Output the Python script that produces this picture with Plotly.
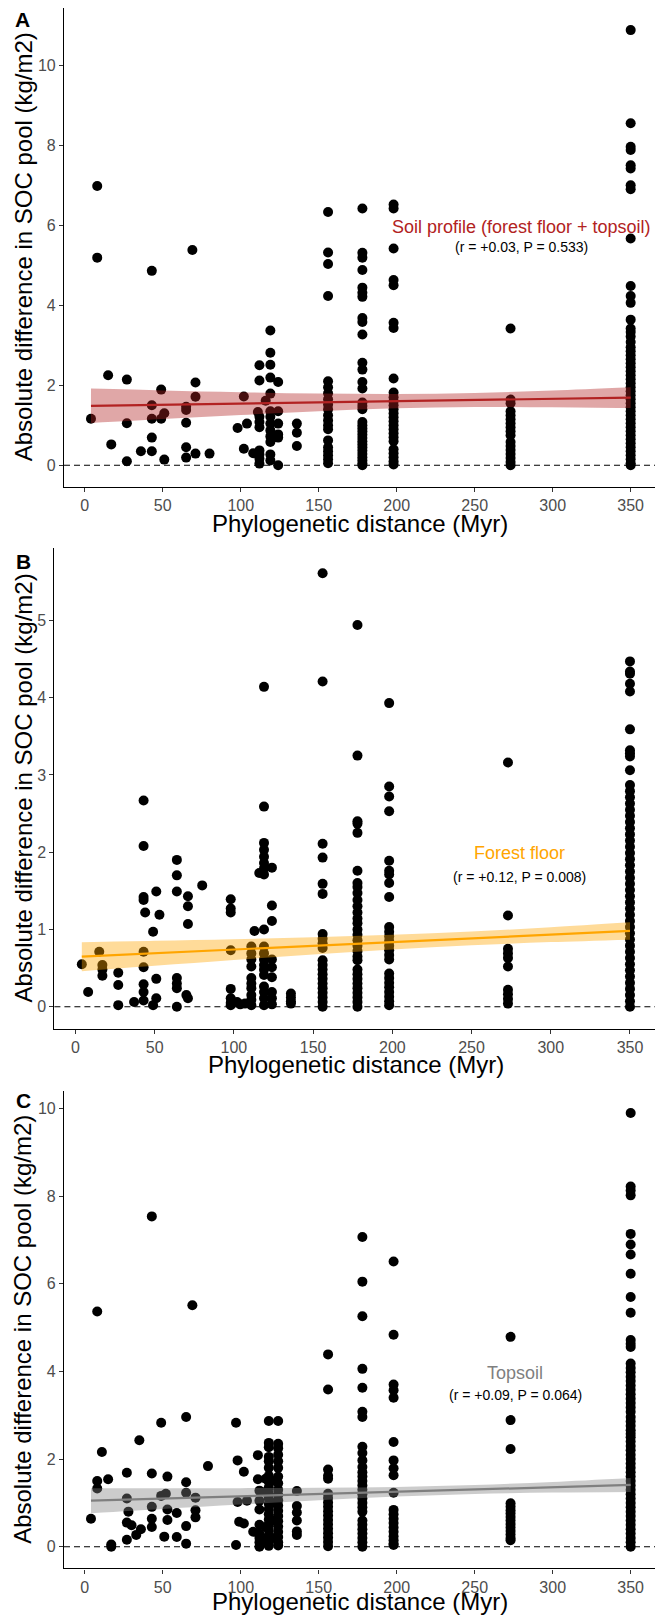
import plotly.graph_objects as go

W, H = 655, 1617
FONT = "Arial, Liberation Sans, sans-serif"

# ---------------- data ----------------
# Panel A: soil profile (forest floor + topsoil)
A_dist = [4, 8, 15, 17, 27, 36, 43, 49, 51, 65, 69, 71, 80, 98, 102, 104, 108, 111,
          112, 116, 119, 124, 136, 156, 178, 198, 273, 350]
A_vals = [
    [1.16], [6.98, 5.19], [2.25], [0.52], [2.14, 1.05, 0.10], [0.35],
    [4.86, 1.50, 1.16, 0.69, 0.35], [1.89, 1.16], [1.30, 0.14],
    [1.46, 1.38, 1.06, 0.45, 0.19], [5.38], [2.07, 1.71, 0.29], [0.29], [0.93],
    [1.72, 0.41], [1.04], [0.30], [1.33],
    [2.50, 2.12, 1.21, 1.08, 0.95, 0.37, 0.27, 0.16, 0.04], [1.61],
    [3.37, 2.81, 2.51, 2.19, 1.79, 1.35, 1.21, 1.04, 0.87, 0.72, 0.58, 0.27, 0.12],
    [2.08, 1.35, 1.04, 0.77, 0.69, 0.0], [1.04, 0.81, 0.48],
    [6.33, 5.32, 5.03, 4.23, 2.10, 1.95, 1.80, 1.65, 1.52, 1.40, 1.25, 1.12, 1.00,
     0.90, 0.62, 0.45, 0.35, 0.25, 0.15, 0.05],
    [6.42, 5.31, 5.19, 4.88, 4.44, 4.31, 4.21, 3.68, 3.58, 3.27, 2.56, 2.39, 2.08,
     1.92, 1.57, 1.48, 1.40, 1.08, 1.00, 0.92, 0.84, 0.76, 0.68, 0.60, 0.52, 0.44,
     0.36, 0.28, 0.20, 0.12, 0.04, 0.0],
    [6.52, 6.42, 5.42, 4.63, 4.50, 3.56, 3.43, 2.17, 1.82, 1.70, 1.60, 1.50, 1.40,
     1.30, 1.20, 1.10, 1.00, 0.90, 0.80, 0.70, 0.60, 0.40, 0.30, 0.20, 0.10, 0.02],
    [3.42, 1.64, 1.55, 1.35, 1.25, 1.15, 1.05, 0.95, 0.85, 0.75, 0.58, 0.48, 0.38,
     0.28, 0.18, 0.08, 0.0],
    [10.88, 8.55, 7.96, 7.88, 7.50, 7.42, 7.00, 6.90, 5.67, 4.48, 4.23, 4.06, 3.64,
     3.42, 3.33, 3.22, 3.08, 2.95, 2.85, 2.75, 2.65, 2.55, 2.45, 2.35, 2.25, 2.15,
     2.05, 1.95, 1.85, 1.75, 1.65, 1.55, 1.45, 1.35, 1.25, 1.15, 1.05, 0.95, 0.85,
     0.75, 0.65, 0.55, 0.45, 0.35, 0.25, 0.15, 0.05, 0.0],
]

# Panel B: forest floor
B_dist = [4, 8, 15, 17, 27, 37, 43, 44, 49, 51, 53, 64, 70, 71, 80, 98, 102, 104,
          107, 111, 113, 116, 119, 124, 136, 156, 178, 198, 273, 350]
B_vals = [
    [0.55], [0.19], [0.71], [0.54, 0.48, 0.40], [0.44, 0.28, 0.02], [0.06],
    [2.67, 2.08, 1.42, 1.38, 0.71, 0.51, 0.29, 0.19, 0.08], [1.22], [0.97, 0.02],
    [1.49, 0.36, 0.11], [1.19], [1.90, 1.70, 1.49, 0.37, 0.30, 0.24, 0.0], [0.15],
    [1.43, 1.30, 1.07, 0.11], [1.57], [1.39, 1.27, 1.22, 0.73, 0.23, 0.11, 0.05, 0.02],
    [0.06], [0.03], [0.04],
    [0.78, 0.69, 0.61, 0.52, 0.37, 0.30, 0.24, 0.15, 0.09, 0.02], [0.98], [1.73],
    [4.14, 2.59, 2.12, 2.03, 1.94, 1.86, 1.79, 1.71, 1.00, 0.78, 0.69, 0.61, 0.54,
     0.48, 0.41, 0.26, 0.19, 0.11, 0.02],
    [1.80, 1.31, 1.11, 0.61, 0.51, 0.38, 0.19, 0.11, 0.03], [0.17, 0.12, 0.07, 0.04],
    [5.61, 4.21, 2.11, 1.93, 1.59, 1.46, 0.94, 0.88, 0.82, 0.76, 0.60, 0.54, 0.48,
     0.42, 0.36, 0.30, 0.24, 0.18, 0.12, 0.06, 0.0],
    [4.94, 3.25, 2.40, 2.37, 2.25, 1.76, 1.60, 1.55, 1.47, 1.38, 1.30, 1.22, 1.14,
     1.08, 1.00, 0.93, 0.86, 0.79, 0.72, 0.65, 0.60, 0.48, 0.42, 0.36, 0.30, 0.24,
     0.18, 0.12, 0.06, 0.0],
    [3.93, 2.85, 2.72, 2.53, 1.89, 1.76, 1.71, 1.60, 1.42, 1.03, 0.97, 0.91, 0.85,
     0.79, 0.73, 0.67, 0.61, 0.43, 0.37, 0.31, 0.25, 0.19, 0.13, 0.07, 0.02],
    [3.16, 1.18, 0.75, 0.69, 0.63, 0.52, 0.22, 0.16, 0.10, 0.04],
    [4.47, 4.34, 4.31, 4.18, 4.08, 3.59, 3.32, 3.28, 3.24, 3.06, 2.87, 2.79, 2.71,
     2.63, 2.55, 2.47, 2.39, 2.31, 2.23, 2.15, 2.07, 1.99, 1.91, 1.83, 1.75, 1.67,
     1.59, 1.51, 1.43, 1.35, 1.27, 1.19, 1.11, 1.03, 0.95, 0.87, 0.79, 0.71, 0.63,
     0.55, 0.47, 0.39, 0.31, 0.23, 0.15, 0.07, 0.0],
]

# Panel C: topsoil
C_dist = [4, 8, 11, 15, 17, 27, 28, 30, 33, 35, 36, 43, 49, 51, 52, 53, 59, 65, 69,
          71, 79, 97, 98, 99, 102, 104, 108, 111, 112, 116, 118, 122, 124, 136, 156,
          178, 198, 273, 350]
C_vals = [
    [0.64], [5.37, 1.50, 1.33], [2.16], [1.54], [0.05, 0.0], [1.69, 1.10, 0.55, 0.16],
    [0.80], [0.49], [0.27], [2.43], [0.40], [7.54, 1.67, 0.91, 0.64, 0.45],
    [2.83, 1.16], [0.23], [1.21], [1.60, 0.85, 0.61], [0.77, 0.22],
    [2.96, 1.47, 1.23, 0.47, 0.07], [5.51], [1.12, 0.83, 0.67], [1.84], [2.83, 0.04],
    [1.97, 1.02], [0.57], [1.71, 0.53], [1.05], [0.34], [2.09, 1.54],
    [1.28, 1.05, 0.85, 0.50, 0.30, 0.20, 0.10, 0.0], [1.55, 1.25, 0.45, 0.15],
    [2.87, 2.37, 2.27, 2.05, 1.95, 1.80, 1.62, 1.48, 1.35, 1.22, 1.10, 0.98, 0.86,
     0.74, 0.62, 0.50, 0.38, 0.26, 0.14, 0.02],
    [1.50, 1.00, 0.60, 0.20],
    [2.87, 2.35, 2.25, 2.10, 1.95, 1.80, 1.60, 1.45, 1.30, 1.18, 1.06, 0.94, 0.82,
     0.70, 0.58, 0.46, 0.34, 0.22, 0.10, 0.03],
    [1.27, 0.93, 0.78, 0.60, 0.35, 0.27],
    [4.39, 3.59, 1.76, 1.62, 1.55, 1.21, 1.11, 1.01, 0.91, 0.81, 0.71, 0.61, 0.51,
     0.41, 0.31, 0.21, 0.11, 0.01],
    [7.07, 6.05, 5.26, 4.06, 3.63, 3.08, 2.96, 2.28, 2.14, 1.97, 1.82, 1.70, 1.60,
     1.50, 1.40, 1.30, 1.20, 1.10, 1.00, 0.90, 0.80, 0.60, 0.50, 0.40, 0.30, 0.20,
     0.10, 0.0],
    [6.51, 4.84, 3.70, 3.57, 3.40, 2.39, 1.97, 1.79, 1.63, 1.23, 0.84, 0.74, 0.64,
     0.54, 0.44, 0.34, 0.24, 0.15, 0.07, 0.04],
    [4.79, 2.89, 2.23, 0.99, 0.91, 0.83, 0.76, 0.68, 0.60, 0.52, 0.44, 0.36, 0.28,
     0.20, 0.15],
    [9.90, 8.22, 8.13, 8.02, 7.14, 6.90, 6.67, 6.23, 5.70, 5.34, 4.72, 4.63, 4.56,
     4.18, 4.08, 3.98, 3.88, 3.78, 3.68, 3.58, 3.48, 3.38, 3.28, 3.18, 3.08, 2.96,
     2.86, 2.76, 2.66, 2.58, 2.50, 2.40, 2.30, 2.20, 2.10, 2.00, 1.90, 1.80, 1.70,
     1.60, 1.50, 1.40, 1.30, 1.20, 1.10, 1.00, 0.90, 0.80, 0.70, 0.60, 0.50, 0.40,
     0.30, 0.20, 0.10, 0.0],
]

# fitted linear trends with 95% confidence bands
fit_x = [4, 50, 100, 150, 200, 250, 300, 350]
A_fit = [1.485, 1.512, 1.542, 1.571, 1.601, 1.631, 1.660, 1.690]
A_lo = [1.055, 1.154, 1.258, 1.351, 1.423, 1.457, 1.450, 1.430]
A_hi = [1.915, 1.870, 1.826, 1.791, 1.779, 1.805, 1.870, 1.950]
B_fit = [0.647, 0.691, 0.739, 0.787, 0.836, 0.884, 0.932, 0.980]
B_lo = [0.459, 0.529, 0.604, 0.675, 0.740, 0.794, 0.836, 0.868]
B_hi = [0.835, 0.853, 0.874, 0.899, 0.932, 0.974, 1.028, 1.092]
C_fit = [1.050, 1.098, 1.150, 1.202, 1.254, 1.306, 1.358, 1.410]
C_lo = [0.765, 0.861, 0.963, 1.059, 1.144, 1.205, 1.237, 1.250]
C_hi = [1.335, 1.335, 1.337, 1.345, 1.364, 1.407, 1.479, 1.570]

x_ticks = [0, 50, 100, 150, 200, 250, 300, 350]
A_yticks = [0, 2, 4, 6, 8, 10]
B_yticks = [0, 1, 2, 3, 4, 5]
C_yticks = [0, 2, 4, 6, 8, 10]

labels = ["A", "B", "C"]
titles = ["Soil profile (forest floor + topsoil)", "Forest floor", "Topsoil"]
stats = ["(r = +0.03, P = 0.533)", "(r = +0.12, P = 0.008)", "(r = +0.09, P = 0.064)"]
x_title = "Phylogenetic distance (Myr)"
y_title = "Absolute difference in SOC pool (kg/m2)"

# ---------------- layout geometry (pixels) ----------------
panels = [
    dict(dist=A_dist, vals=A_vals, fit=A_fit, lo=A_lo, hi=A_hi, yt=A_yticks,
         line="#B22222", fill="rgba(178,34,34,0.40)", left=64, top=7.5, bottom=487,
         xr=[-13.3, 365.6], yr=[-0.545, 11.445], ann=(280, 5.96, 5.46),
         lab=(22, 20), xt=523.3),
    dict(dist=B_dist, vals=B_vals, fit=B_fit, lo=B_lo, hi=B_hi, yt=B_yticks,
         line="#FFA500", fill="rgba(255,165,0,0.40)", left=54.4, top=548.4, bottom=1028.5,
         xr=[-13.3, 365.8], yr=[-0.2825, 5.9325], ann=(280, 1.99, 1.68),
         lab=(23, 561.7), xt=1064),
    dict(dist=C_dist, vals=C_vals, fit=C_fit, lo=C_lo, hi=C_hi, yt=C_yticks,
         line="#7F7F7F", fill="rgba(127,127,127,0.40)", left=64, top=1091.3, bottom=1568.4,
         xr=[-13.3, 365.6], yr=[-0.495, 10.395], ann=(276, 3.96, 3.47),
         lab=(23, 1100.6), xt=1601),
]

fig = go.Figure()
annotations = []
shapes = []

for i, p in enumerate(panels):
    n = "" if i == 0 else str(i + 1)
    xa, ya = "x" + n, "y" + n
    xs, ys = [], []
    for d, vs in zip(p["dist"], p["vals"]):
        for v in vs:
            xs.append(d)
            ys.append(v)
    fig.add_trace(go.Scatter(x=xs, y=ys, mode="markers", xaxis=xa, yaxis=ya,
                             marker=dict(size=10, color="black", line=dict(width=0)),
                             showlegend=False, hoverinfo="skip", cliponaxis=False))
    fig.add_trace(go.Scatter(x=fit_x, y=p["hi"], mode="lines", xaxis=xa, yaxis=ya,
                             line=dict(width=0, shape="spline", color=p["fill"]),
                             showlegend=False, hoverinfo="skip"))
    fig.add_trace(go.Scatter(x=fit_x, y=p["lo"], mode="lines", xaxis=xa, yaxis=ya,
                             line=dict(width=0, shape="spline", color=p["fill"]),
                             fill="tonexty", fillcolor=p["fill"],
                             showlegend=False, hoverinfo="skip"))
    fig.add_trace(go.Scatter(x=fit_x, y=p["fit"], mode="lines", xaxis=xa, yaxis=ya,
                             line=dict(width=2.2, color=p["line"]),
                             showlegend=False, hoverinfo="skip"))

    xdom = [p["left"] / W, 1.0]
    ydom = [1 - p["bottom"] / H, 1 - p["top"] / H]
    common = dict(showline=True, linecolor="black", linewidth=1.2, showgrid=False,
                  zeroline=False, ticks="outside", ticklen=4, tickwidth=1.1,
                  tickcolor="#333333", automargin=False,
                  tickfont=dict(family=FONT, size=16, color="#4D4D4D"))
    fig.layout["xaxis" + n] = dict(domain=xdom, range=p["xr"], anchor=ya,
                                   tickvals=x_ticks, **common)
    fig.layout["yaxis" + n] = dict(domain=ydom, range=p["yr"], anchor=xa,
                                   tickvals=p["yt"], **common)

    shapes.append(dict(type="line", xref=xa + " domain", yref=ya, x0=0, x1=1, y0=0, y1=0,
                       line=dict(color="black", width=1.1, dash="6px,4px"), layer="above"))

    ax, ay1, ay2 = p["ann"]
    annotations.append(dict(x=ax, y=ay1, xref=xa, yref=ya, text=titles[i], showarrow=False,
                            font=dict(family=FONT, size=18, color=p["line"])))
    annotations.append(dict(x=ax, y=ay2, xref=xa, yref=ya, text=stats[i], showarrow=False,
                            font=dict(family=FONT, size=14, color="black")))
    lx, ly = p["lab"]
    annotations.append(dict(x=lx / W, y=1 - ly / H, xref="paper", yref="paper",
                            text="<b>" + labels[i] + "</b>", showarrow=False,
                            xanchor="center", yanchor="middle",
                            font=dict(family=FONT, size=21, color="black")))
    # axis titles
    annotations.append(dict(x=(p["left"] + 657) / 2 / W, y=1 - p["xt"] / H, xref="paper",
                            yref="paper", text=x_title, showarrow=False,
                            xanchor="center", yanchor="middle",
                            font=dict(family=FONT, size=24, color="black")))
    annotations.append(dict(x=23 / W, y=1 - (p["top"] + p["bottom"]) / 2 / H, xref="paper",
                            yref="paper", text=y_title, showarrow=False, textangle=-90,
                            xanchor="center", yanchor="middle",
                            font=dict(family=FONT, size=24, color="black")))

fig.update_layout(width=W, height=H, autosize=False,
                  margin=dict(l=0, r=0, t=0, b=0, autoexpand=False),
                  paper_bgcolor="white", plot_bgcolor="white",
                  annotations=annotations, shapes=shapes,
                  font=dict(family=FONT))

fig.write_html("out.html", config={"displayModeBar": False},
               post_script="document.body.style.margin='0px';document.body.style.overflow='hidden';")
